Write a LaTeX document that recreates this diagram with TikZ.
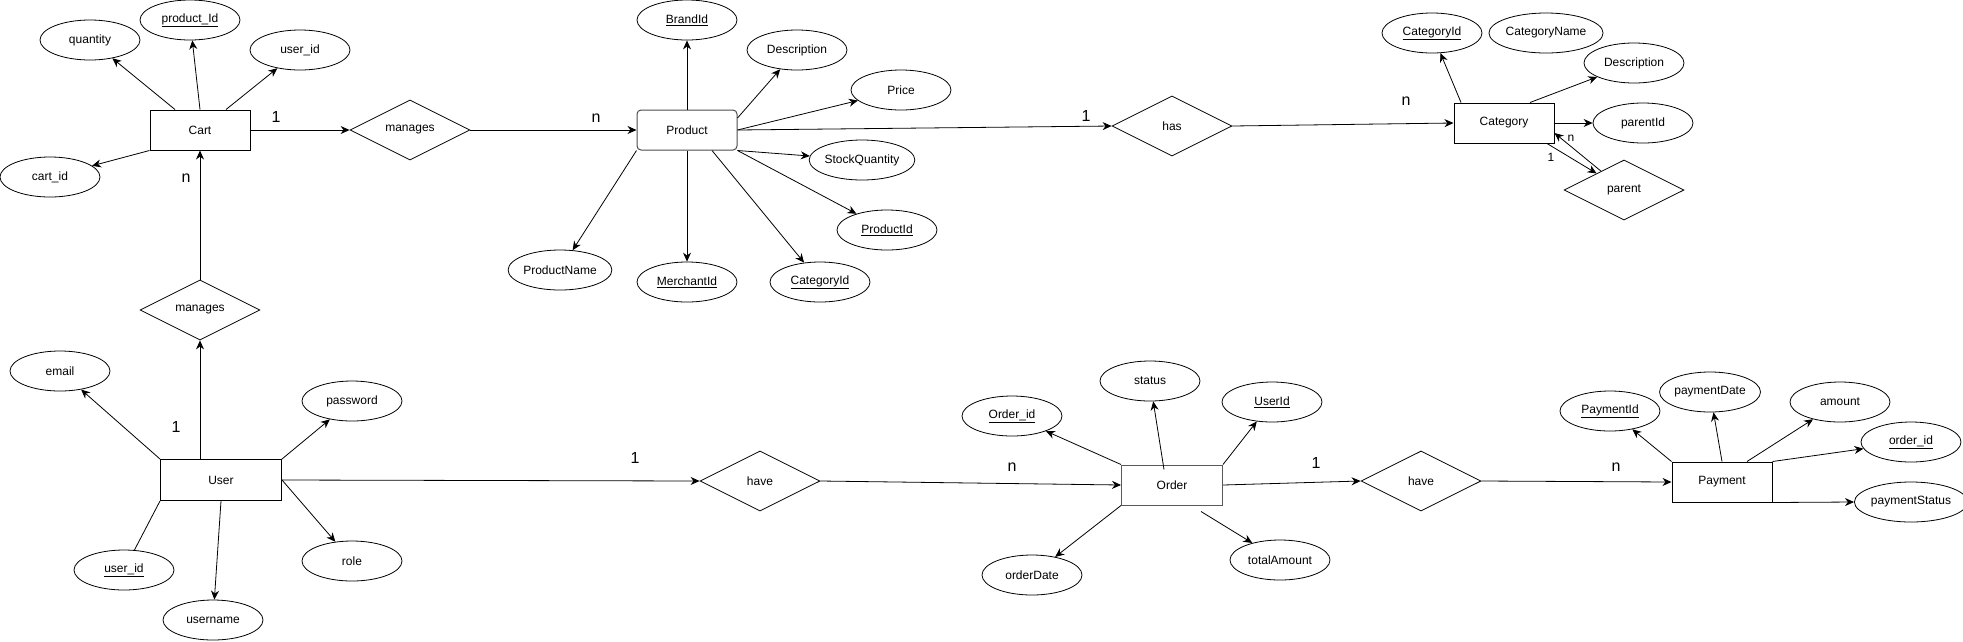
\documentclass[tikz,border=0pt]{standalone}
\usepackage{fontspec}
\setmainfont{Liberation Sans}
\usetikzlibrary{shapes.geometric,arrows.meta}

\newcommand{\keyattr}[1]{\underline{#1}}

\tikzset{
  basefont/.style={font=\fontsize{12}{14}\selectfont},
  entity/.style={basefont, draw, rectangle, line width=1pt, minimum width=100pt, minimum height=40pt, inner sep=0pt},
  relation/.style={basefont, draw, diamond, line width=0.8pt, minimum width=120pt, minimum height=60pt, inner sep=0pt},
  attr/.style={basefont, draw, ellipse, line width=0.8pt, minimum width=100pt, minimum height=40pt, inner sep=0pt},
  card/.style={font=\fontsize{16}{18}\selectfont, inner sep=0pt},
  smallcard/.style={font=\fontsize{12}{14}\selectfont, inner sep=0pt},
  arr/.style={line width=0.8pt, -{Stealth[length=9pt,width=8pt]}},
  link/.style={line width=0.8pt}
}

\begin{document}
\begin{tikzpicture}[x=1pt,y=-1pt]

\useasboundingbox (0,0) rectangle (1963,641);

% entities
\node[entity] (cart) at (200,130) {Cart};
\node[entity, rounded corners=4pt, draw=black!70] (product) at (687,130) {Product};
\node[entity] (category) at (1504,123) {Category};
\node[entity, minimum width=121pt, minimum height=41pt] (user) at (221,480) {User};
\node[entity, draw=black!65, minimum width=101pt] (order) at (1172,485) {Order};
\node[entity] (payment) at (1722,482) {Payment};

% relations
\node[relation] (managesCP) at (410,130) {manages};
\node[relation] (managesUC) at (200,310) {manages};
\node[relation] (has) at (1172,126) {has};
\node[relation] (parent) at (1624,190) {parent};
\node[relation] (haveUO) at (760,481) {have};
\node[relation] (haveOP) at (1421,481) {have};

% cart attributes
\node[attr] (quantity) at (90,40) {quantity};
\node[attr] (cartProd) at (190,20) {\keyattr{product\_Id}};
\node[attr] (cartUser) at (300,50) {user\_id};
\node[attr] (cartId) at (50,177) {cart\_id};

% product attributes
\node[attr] (brandId) at (687,20) {\keyattr{BrandId}};
\node[attr] (prodDesc) at (797,50) {Description};
\node[attr] (price) at (901,90) {Price};
\node[attr] (stock) at (862,160) {StockQuantity};
\node[attr] (prodId) at (887,230) {\keyattr{ProductId}};
\node[attr] (prodName) at (560,270) {ProductName};
\node[attr] (merchId) at (687,282) {\keyattr{MerchantId}};
\node[attr] (prodCat) at (820,282) {\keyattr{CategoryId}};

% category attributes
\node[attr] (catId) at (1432,33) {\keyattr{CategoryId}};
\node[attr] (catName) at (1546,33) {CategoryName};
\node[attr] (catDesc) at (1634,63) {Description};
\node[attr] (parentId) at (1643,123) {parentId};

% user attributes
\node[attr] (email) at (60,371) {email};
\node[attr] (password) at (352,401) {password};
\node[attr] (role) at (352,561) {role};
\node[attr] (userId) at (124,570) {\keyattr{user\_id}};
\node[attr] (username) at (213,620) {username};

% order attributes
\node[attr] (orderId) at (1012,416) {\keyattr{Order\_id}};
\node[attr] (status) at (1150,381) {status};
\node[attr] (orderUser) at (1272,402) {\keyattr{UserId}};
\node[attr] (orderDate) at (1032,575) {orderDate};
\node[attr] (total) at (1280,560) {totalAmount};

% payment attributes
\node[attr] (payId) at (1610,411) {\keyattr{PaymentId}};
\node[attr] (payDate) at (1710,392) {paymentDate};
\node[attr] (amount) at (1840,402) {amount};
\node[attr] (payOrder) at (1911,442) {\keyattr{order\_id}};
\node[attr] (payStatus) at (1911,502) {paymentStatus};

% cardinalities
\node[card] (cOneCart) at (276,117) {1};
\node[card] (cNProd) at (596,118) {n};
\node[card] (cNCart) at (186,178) {n};
\node[card] (cOneUser) at (176,427) {1};
\node[card] (cOneHas) at (1086,116) {1};
\node[card] (cNCat) at (1406,101) {n};
\node[smallcard] (cNPar) at (1571,138) {n};
\node[smallcard] (cOnePar) at (1551,157) {1};
\node[card] (cOneHave) at (635,458) {1};
\node[card] (cNOrder) at (1012,467) {n};
\node[card] (cOneOrder) at (1316,463) {1};
\node[card] (cNPay) at (1616,467) {n};

% cart
\draw[arr] ([xshift=-25pt]cart.north) -- (quantity);
\draw[arr] (cart.north) -- (cartProd);
\draw[arr] ([xshift=26pt]cart.north) -- (cartUser);
\draw[arr] (cart.south west) -- (cartId);
\draw[arr] (cart.east) -- (managesCP.west);
\draw[arr] (managesCP.east) -- (product.west);
\draw[arr] (managesUC.north) -- (cart.south);
\draw[arr] ([xshift=-21pt]user.north) -- (managesUC.south);

% product
\draw[arr] (product.north) -- (brandId);
\draw[arr] ([yshift=12pt]product.east) -- (prodDesc);
\draw[arr] (product.east) -- (price);
\draw[arr] (product.south east) -- (stock);
\draw[arr] (product.south east) -- (prodId);
\draw[arr] ([xshift=25pt]product.south) -- (prodCat);
\draw[arr] (product.south) -- (merchId);
\draw[arr] (product.south west) -- (prodName);
\draw[arr] (product.east) -- (has.west);
\draw[arr] (has.east) -- (category.west);

% category
\draw[arr] ([xshift=-43pt]category.north) -- (catId);
\draw[arr] ([xshift=26pt]category.north) -- (catDesc);
\draw[arr] (category.east) -- (parentId);
\draw[arr] ([xshift=43pt]category.south) -- (parent);
\draw[arr] (parent) -- ([yshift=-10pt]category.east);

% user
\draw[arr] (user.north west) -- (email);
\draw[arr] (user.north east) -- (password);
\draw[arr] (user.east) -- (role);
\draw[arr] (user.south) -- (username);
\draw[link] (user.south west) -- (userId);
\draw[arr] (user.east) -- (haveUO.west);
\draw[arr] (haveUO.east) -- (order.west);

% order
\draw[arr] (order.north west) -- (orderId);
\draw[arr] ([xshift=-8pt,yshift=-5pt]order.north) -- (status);
\draw[arr] (order.north east) -- (orderUser);
\draw[arr] (order.south west) -- (orderDate);
\draw[arr] ([xshift=29pt,yshift=-6pt]order.south) -- (total);
\draw[arr] (order.east) -- (haveOP.west);
\draw[arr] (haveOP.east) -- (payment.west);

% payment
\draw[arr] (payment.north west) -- (payId);
\draw[arr] (payment.north) -- (payDate);
\draw[arr] ([xshift=25pt]payment.north) -- (amount);
\draw[arr] (payment.north east) -- (payOrder);
\draw[arr] (payment.south east) -- (payStatus.west);

\end{tikzpicture}
\end{document}
